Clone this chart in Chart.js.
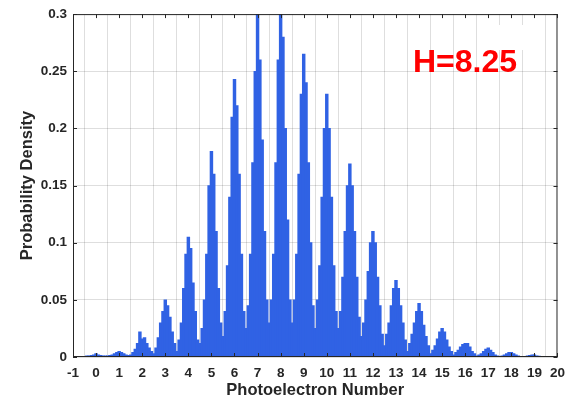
<!DOCTYPE html>
<html>
<head>
<meta charset="utf-8">
<script src="https://cdn.jsdelivr.net/npm/chart.js@4/dist/chart.umd.min.js"></script>
<style>
  html, body { margin: 0; padding: 0; background: #fff; }
  #wrap { width: 573px; height: 401px; position: relative; }
</style>
</head>
<body>
<div id="wrap"><canvas id="chart"></canvas></div>
<script>
// Histogram bins: width 0.1, first bin centred on -0.5
const binStart = -0.5;
const binWidth = 0.1;

// Probability density per bin, one row per photoelectron number (offsets -0.5 .. +0.4)
const density = [
    /* 0 */ 0.0005, 0.001, 0.001, 0.0015, 0.002, 0.003, 0.002, 0.0015, 0.001, 0.001,
    /* 1 */ 0.001, 0.0015, 0.002, 0.003, 0.004, 0.005, 0.004, 0.003, 0.002, 0.0015,
    /* 2 */ 0.002, 0.004, 0.007, 0.012, 0.022, 0.016, 0.017, 0.012, 0.008, 0.005,
    /* 3 */ 0.003, 0.008, 0.017, 0.03, 0.04, 0.05, 0.045, 0.035, 0.022, 0.012,
    /* 4 */ 0.005, 0.015, 0.03, 0.06, 0.09, 0.105, 0.095, 0.065, 0.04, 0.015,
    /* 5 */ 0.012, 0.025, 0.05, 0.09, 0.15, 0.18, 0.16, 0.11, 0.06, 0.03,
    /* 6 */ 0.018, 0.04, 0.08, 0.14, 0.21, 0.243, 0.22, 0.16, 0.09, 0.04,
    /* 7 */ 0.025, 0.045, 0.09, 0.17, 0.25, 0.30, 0.26, 0.19, 0.11, 0.05,
    /* 8 */ 0.03, 0.05, 0.09, 0.17, 0.26, 0.30, 0.28, 0.20, 0.12, 0.05,
    /* 9 */ 0.03, 0.05, 0.09, 0.16, 0.23, 0.265, 0.24, 0.17, 0.10, 0.045,
    /* 10 */ 0.025, 0.05, 0.08, 0.14, 0.20, 0.23, 0.20, 0.14, 0.08, 0.04,
    /* 11 */ 0.025, 0.04, 0.07, 0.11, 0.15, 0.169, 0.15, 0.11, 0.07, 0.035,
    /* 12 */ 0.018, 0.03, 0.05, 0.075, 0.10, 0.11, 0.10, 0.07, 0.045, 0.02,
    /* 13 */ 0.01, 0.02, 0.03, 0.045, 0.06, 0.067, 0.06, 0.045, 0.03, 0.015,
    /* 14 */ 0.005, 0.012, 0.02, 0.03, 0.04, 0.047, 0.04, 0.028, 0.018, 0.01,
    /* 15 */ 0.003, 0.006, 0.01, 0.016, 0.022, 0.025, 0.022, 0.015, 0.009, 0.005,
    /* 16 */ 0.002, 0.004, 0.006, 0.009, 0.011, 0.012, 0.012, 0.009, 0.005, 0.003,
    /* 17 */ 0.001, 0.002, 0.003, 0.005, 0.007, 0.008, 0.006, 0.004, 0.002, 0.001,
    /* 18 */ 0.0005, 0.001, 0.002, 0.003, 0.004, 0.004, 0.003, 0.002, 0.001, 0.0005,
    /* 19 */ 0.0003, 0.0005, 0.001, 0.0015, 0.002, 0.002, 0.001, 0.0008, 0.0005, 0.0003,
];

const xTicksRange = [-1, 20];
const yTicksRange = [0, 0.3];
const annotationText = 'H=8.25';

const points = density.map((y, i) => ({ x: +(binStart + i * binWidth).toFixed(2), y }));

const FONT = '"Liberation Sans", Arial, sans-serif';
const AXIS_COLOR = '#262626';

// box round the plot area, inward ticks, and the red label
const framePlugin = {
    id: 'frame',
    afterDraw(chart) {
        const { ctx, chartArea: a, scales } = chart;
        ctx.save();
        ctx.fillStyle = '#fff';
        ctx.fillRect(488, 25, 56, 25);

        ctx.strokeStyle = AXIS_COLOR;
        ctx.lineWidth = 1;
        ctx.strokeRect(a.left + 0.5, a.top + 0.5, a.right - a.left - 1, a.bottom - a.top - 1);

        ctx.beginPath();
        scales.x.ticks.forEach(t => {
            const px = Math.round(scales.x.getPixelForValue(t.value)) + 0.5;
            ctx.moveTo(px, a.top); ctx.lineTo(px, a.top + 4);
            ctx.moveTo(px, a.bottom); ctx.lineTo(px, a.bottom - 4);
        });
        scales.y.ticks.forEach(t => {
            const py = Math.round(scales.y.getPixelForValue(t.value)) + 0.5;
            ctx.moveTo(a.left, py); ctx.lineTo(a.left + 4, py);
            ctx.moveTo(a.right, py); ctx.lineTo(a.right - 4, py);
        });
        ctx.stroke();

        ctx.fillStyle = '#ff0000';
        ctx.font = 'bold 32px ' + FONT;
        ctx.textBaseline = 'alphabetic';
        ctx.fillText(annotationText, 413, 72);
        ctx.restore();
    }
};

new Chart(document.getElementById('chart'), {
    type: 'bar',
    data: {
        datasets: [{
            data: points,
            backgroundColor: 'rgb(48, 98, 228)',
            borderWidth: 0,
            barThickness: 2.8,
        }],
    },
    options: {
        responsive: true,
        maintainAspectRatio: false,
        animation: false,
        layout: { padding: { left: 0, right: 7, top: 12, bottom: 0 } },
        plugins: { legend: { display: false }, tooltip: { enabled: false } },
        scales: {
            x: {
                type: 'linear',
                min: xTicksRange[0],
                max: xTicksRange[1],
                offset: false,
                grid: { color: 'rgba(0,0,0,0.13)', drawTicks: false },
                border: { display: false },
                ticks: {
                    stepSize: 1,
                    color: AXIS_COLOR,
                    padding: 8,
                    maxRotation: 0,
                    autoSkip: false,
                    font: { family: FONT, size: 13.5, weight: 'bold' },
                },
                title: {
                    display: true,
                    text: 'Photoelectron Number',
                    color: AXIS_COLOR,
                    padding: { top: 0, bottom: 1 },
                    font: { family: FONT, size: 16.5, weight: 'bold' },
                },
                afterFit: (s) => { s.height = 44; },
            },
            y: {
                min: yTicksRange[0],
                max: yTicksRange[1],
                grid: { color: 'rgba(0,0,0,0.13)', drawTicks: false },
                border: { display: false },
                ticks: {
                    stepSize: 0.05,
                    color: AXIS_COLOR,
                    padding: 6,
                    font: { family: FONT, size: 13.5, weight: 'bold' },
                    callback: (v) => String(parseFloat(v.toFixed(2))),
                },
                title: {
                    display: true,
                    text: 'Probability Density',
                    color: AXIS_COLOR,
                    padding: { top: 18, bottom: 0 },
                    font: { family: FONT, size: 16.5, weight: 'bold' },
                },
                afterFit: (s) => { s.width = 73; },
            },
        },
    },
    plugins: [framePlugin],
});
</script>
</body>
</html>
